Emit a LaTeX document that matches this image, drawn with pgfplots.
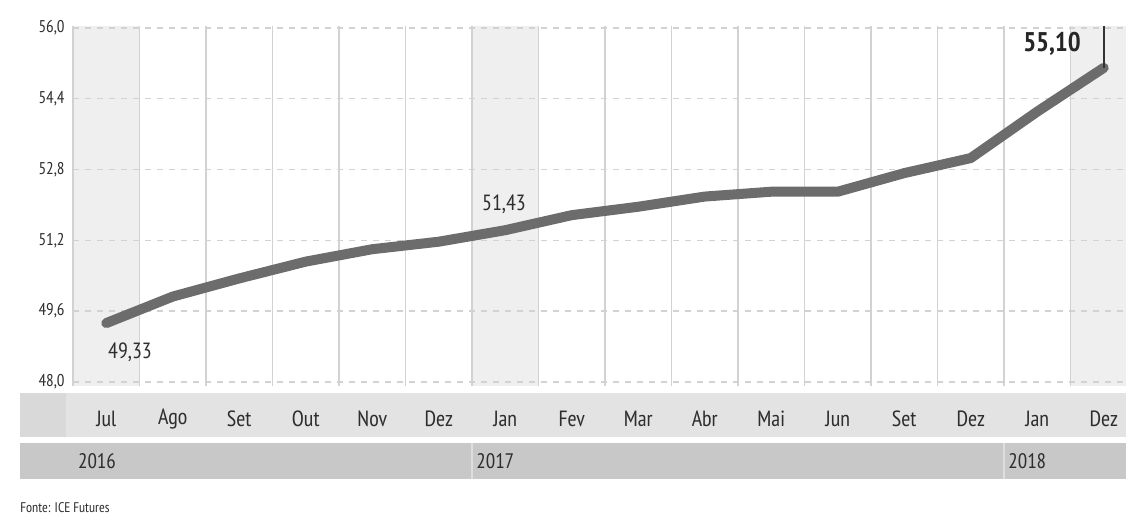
\documentclass[border=0pt]{standalone}
\usepackage{fontspec}
\setmainfont{PT Sans Narrow}
\usepackage{pgfplots}
\pgfplotsset{compat=1.18}
\definecolor{linegray}{HTML}{6C6C6C}
\definecolor{colshade}{HTML}{EFEFEF}
\definecolor{gridgray}{HTML}{D2D2D2}
\definecolor{monthband}{HTML}{E3E3E3}
\definecolor{firstcell}{HTML}{D9D9D9}
\definecolor{yearband}{HTML}{C8C8C8}
\definecolor{txt}{HTML}{2E2E2E}

\begin{document}
\begin{tikzpicture}
\begin{axis}[
  set layers=standard,
  scale only axis,
  width=526.5pt, height=180.3pt,
  xmin=-0.5, xmax=15.335,
  ymin=47.9, ymax=56.05,
  clip=false,
  axis line style={draw=none},
  major tick length=0pt, minor tick length=0pt,
  xtick={0,...,15},
  xticklabels={Jul,Ago,Set,Out,Nov,Dez,Jan,Fev,Mar,Abr,Mai,Jun,Set,Dez,Jan,Dez},
  minor xtick={-0.5,0.5,...,14.5},
  xminorgrids,
  minor grid style={gridgray, line width=0.8pt},
  ytick={48,49.6,51.2,52.8,54.4,56},
  yticklabels={{48,0},{49,6},{51,2},{52,8},{54,4},{56,0}},
  ymajorgrids,
  major grid style={gridgray, line width=0.7pt, dash pattern=on 3pt off 3pt},
  xticklabel style={font=\fontsize{11}{13}\selectfont, text=txt, anchor=center, yshift=-16.2pt},
  yticklabel style={font=\fontsize{8.5}{10}\selectfont, text=txt, anchor=east, inner sep=0pt, xshift=-4pt},
]
\begin{pgfonlayer}{axis background}
  \fill[colshade] (axis cs:-0.5,47.9) rectangle (axis cs:0.5,56.05);
  \fill[colshade] (axis cs:5.5,47.9) rectangle (axis cs:6.5,56.05);
  \fill[colshade] (axis cs:14.5,47.9) rectangle (axis cs:15.335,56.05);
  \fill[monthband] (axis cs:-1.297,47.751) rectangle (axis cs:15.335,46.757);
  \fill[firstcell] (axis cs:-1.297,47.751) rectangle (axis cs:-0.6,46.757);
  \fill[yearband] (axis cs:-1.297,46.621) rectangle (axis cs:15.335,45.808);
  \draw[white!40!yearband, line width=0.6pt] (axis cs:5.5,46.621) -- (axis cs:5.5,45.808);
  \draw[white!40!yearband, line width=0.6pt] (axis cs:13.5,46.621) -- (axis cs:13.5,45.808);
\end{pgfonlayer}

\addplot[linegray, line width=5pt, line join=round, line cap=round] coordinates {
  (0,49.33) (1,49.93) (2,50.34) (3,50.72) (4,51.00) (5,51.17) (6,51.43) (7,51.77)
  (8,51.96) (9,52.19) (10,52.30) (11,52.30) (12,52.72) (13,53.06) (14,54.11) (15,55.10)};

\node[text=txt, font=\fontsize{11}{13}\selectfont] at (axis cs:0.357,48.678) {49,33};
\node[text=txt, font=\fontsize{11}{13}\selectfont] at (axis cs:5.981,52.023) {51,43};
\node[text=black!85, font=\bfseries\fontsize{13.5}{16}\selectfont] at (axis cs:14.222,55.638) {55,10};
\draw[black!80, line width=1pt] (axis cs:15,55.10) -- (axis cs:15,56.05);

\node[anchor=west, inner sep=0pt, text=txt, font=\fontsize{10.5}{12}\selectfont] at (axis cs:-0.43,46.215) {2016};
\node[anchor=west, inner sep=0pt, text=txt, font=\fontsize{10.5}{12}\selectfont] at (axis cs:5.56,46.215) {2017};
\node[anchor=west, inner sep=0pt, text=txt, font=\fontsize{10.5}{12}\selectfont] at (axis cs:13.56,46.215) {2018};
\node[anchor=west, inner sep=0pt, text=txt, font=\fontsize{7}{8}\selectfont] at (axis cs:-1.297,45.153) {Fonte: ICE Futures};

\coordinate (bbl) at (axis cs:-1.598,44.791);
\coordinate (btr) at (axis cs:15.335,56.633);
\end{axis}
\pgfresetboundingbox
\useasboundingbox (bbl) rectangle (btr);
\end{tikzpicture}
\end{document}
